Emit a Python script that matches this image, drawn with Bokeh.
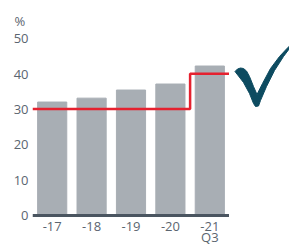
from bokeh.plotting import figure
from bokeh.layouts import row
from bokeh.models import Range1d, FactorRange
from bokeh.core.properties import value
from bokeh.embed import file_html
from bokeh.resources import INLINE

years = ["-17", "-18", "-19", "-20", "-21"]
period_note = {"-21": "Q3"}
values = [32.0, 33.1, 35.4, 37.1, 42.2]
target = [30, 30, 30, 30, 40]
y_ticks = [0, 10, 20, 30, 40, 50]
unit_label = "%"
unit_pos = 55

TEXT = "#5b6570"
FONT = "Open Sans"
W, H = 229, 246

p = figure(x_range=FactorRange(*years, range_padding=0), y_range=Range1d(-8.92, 60.76),
           width=W, height=H, output_backend="svg", toolbar_location=None,
           min_border_left=32, min_border_right=0, min_border_top=0, min_border_bottom=0)
p.outline_line_color = None
p.grid.visible = False

p.vbar(x=years, top=values, width=0.74, color="#a8aeb4")

lx = []
ly = []
for c, t in zip(years, target):
    lx += [(c, -0.5), (c, 0.5)]
    ly += [t, t]
p.line(lx, ly, line_color="#e5212f", line_width=2.5)

p.yaxis.ticker = y_ticks + [unit_pos]
p.yaxis.major_label_overrides = {unit_pos: unit_label + "\u00a0"}
p.yaxis.axis_line_color = None
p.yaxis.major_tick_line_color = None
p.yaxis.major_tick_out = 0
p.yaxis.major_tick_in = 0
p.yaxis.minor_tick_line_color = None
p.yaxis.major_label_standoff = 4
p.yaxis.major_label_text_font = FONT
p.yaxis.major_label_text_font_size = "13px"
p.yaxis.major_label_text_color = TEXT

p.xaxis.fixed_location = 0
p.xaxis.axis_line_color = "#4a5560"
p.xaxis.axis_line_width = 3
p.xaxis.major_tick_line_color = None
p.xaxis.major_tick_out = 0
p.xaxis.major_tick_in = 0
p.xaxis.minor_tick_line_color = None
p.xaxis.major_label_standoff = 7
p.xaxis.major_label_text_font = FONT
p.xaxis.major_label_text_font_size = "13px"
p.xaxis.major_label_text_color = TEXT

# second line under the last period label
p.text(x=list(period_note.keys()), y=[-6.2] * len(period_note), text=list(period_note.values()),
       text_font=value(FONT), text_font_size="13px", text_color=TEXT,
       text_align="center", text_baseline="middle")

# checkmark decoration
c = figure(width=60, height=H, x_range=Range1d(229, 289), y_range=Range1d(246, 0),
           output_backend="svg", toolbar_location=None,
           min_border_left=0, min_border_right=0, min_border_top=0, min_border_bottom=0)
c.axis.visible = False
c.grid.visible = False
c.outline_line_color = None
ckx = [234.5, 237, 240, 243, 246, 249, 253, 256.5, 262, 270, 279, 286, 289, 289, 283, 274, 266, 260, 258, 255, 253, 249, 243, 238]
cky = [71, 68.5, 67.5, 68, 70.5, 76, 86, 94, 83, 68, 56, 48.5, 45.5, 48, 56, 70, 86, 100, 105.5, 106, 103, 93, 82, 75.5]
c.patch(ckx, cky, color="#0d4b60")

layout = row(p, c, spacing=0)
open("out.html", "w").write(file_html(layout, INLINE))
